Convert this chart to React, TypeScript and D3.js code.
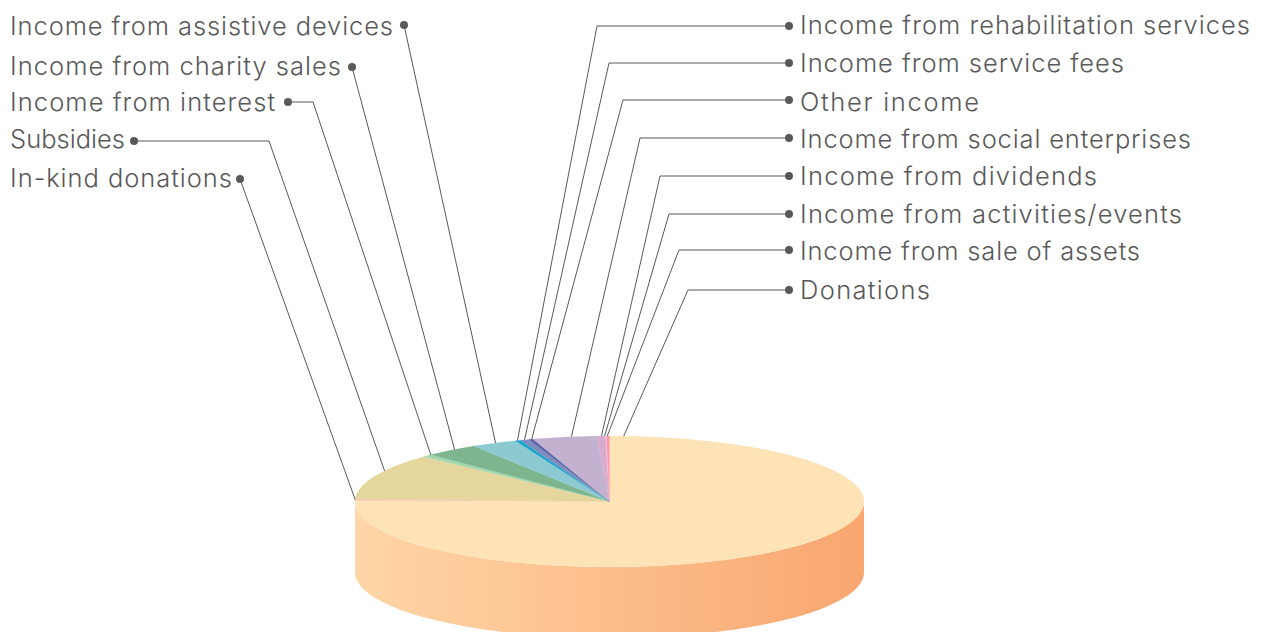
import React from "react";
import * as d3 from "d3";

const categories = ["Donations","In-kind donations","Subsidies","Income from interest","Income from charity sales","Income from assistive devices","Income from rehabilitation services","Income from service fees","Other income","Income from social enterprises","Income from dividends","Income from activities/events","Income from sale of assets"];
const shares = [75.28,0.42,11.28,0.64,3.44,2.92,0.33,0.56,0.28,4.08,0.53,0.06,0.19];
const colours = ["#FEE3B6","#F9C6AE","#E5D69E","#A3D7AE","#7CB58E","#8CC9D1","#12A4CF","#7F8CBE","#5C63A6","#C2B2D0","#D9AACD","#F0C6D8","#FF95A8"];

const W = 1264, H = 632;
const CX = 609.5, CY = 501.5, RX = 254.5, RY = 65.5, DEPTH = 71;

type Leader = { name: string; textX: number; textY: number; width: number; dot: number; dotY: number; elbow?: number; tipDeg: number };
const leaders: Leader[] = [
  { name: "Income from assistive devices", textX: 10, textY: 35, width: 383, dot: 404, dotY: 25, tipDeg: 333.4 },
  { name: "Income from charity sales", textX: 10, textY: 75, width: 331, dot: 352, dotY: 67, tipDeg: 322.5 },
  { name: "Income from interest", textX: 10, textY: 111, width: 265, dot: 288, dotY: 102, elbow: 313, tipDeg: 315.4 },
  { name: "Subsidies", textX: 10, textY: 148, width: 115, dot: 134, dotY: 141, elbow: 269, tipDeg: 297.9 },
  { name: "In-kind donations", textX: 10, textY: 187, width: 222, dot: 240, dotY: 179, tipDeg: 271.8 },
  { name: "Income from rehabilitation services", textX: 800, textY: 34, width: 450, dot: 789, dotY: 26, elbow: 597, tipDeg: 338.8 },
  { name: "Income from service fees", textX: 800, textY: 72, width: 324, dot: 789, dotY: 63, elbow: 609, tipDeg: 340.5 },
  { name: "Other income", textX: 800, textY: 111, width: 179, dot: 789, dotY: 100, elbow: 623, tipDeg: 342.2 },
  { name: "Income from social enterprises", textX: 800, textY: 148, width: 391, dot: 789, dotY: 138, elbow: 640, tipDeg: 351.4 },
  { name: "Income from dividends", textX: 800, textY: 185, width: 297, dot: 789, dotY: 176, elbow: 660, tipDeg: 358.2 },
  { name: "Income from activities/events", textX: 800, textY: 223, width: 382, dot: 789, dotY: 214, elbow: 669, tipDeg: 358.9 },
  { name: "Income from sale of assets", textX: 800, textY: 260, width: 340, dot: 789, dotY: 250, elbow: 679, tipDeg: 359.5 },
  { name: "Donations", textX: 800, textY: 299, width: 130, dot: 789, dotY: 290, elbow: 688, tipDeg: 3.2 },
];

const pieGen = d3.pie<number>().sort(null).startAngle(0).endAngle(2 * Math.PI);
const arcGen = d3.arc<d3.PieArcDatum<number>>().innerRadius(0).outerRadius(RX);
const rim = (deg: number): [number, number] => {
  const t = (deg * Math.PI) / 180;
  return [CX + RX * Math.sin(t), CY - RY * Math.cos(t)];
};

export default function App() {
  const arcs = pieGen(shares);
  const sidePath = `M${CX - RX},${CY} L${CX - RX},${CY + DEPTH} A${RX},${RY} 0 0 0 ${CX + RX},${CY + DEPTH} L${CX + RX},${CY} A${RX},${RY} 0 0 1 ${CX - RX},${CY} Z`;
  const line = d3.line();
  return (
    <svg width={W} height={H} style={{ position: "absolute", left: 0, top: 0, display: "block", background: "#fff" }}>
      <defs>
        <linearGradient id="side" gradientUnits="userSpaceOnUse" x1={CX - RX} x2={CX + RX} y1={0} y2={0}>
          <stop offset="0" stopColor="#FFD6A8" />
          <stop offset="1" stopColor="#F9A66F" />
        </linearGradient>
      </defs>
      <path d={sidePath} fill="url(#side)" />
      <g transform={`translate(${CX},${CY}) scale(1,${RY / RX})`}>
        {arcs.map((a, i) => (
          <path key={categories[i]} d={arcGen(a) as string} fill={colours[i]} stroke={colours[i]} strokeWidth={0.3} />
        ))}
      </g>
      {leaders.map((l) => {
        const pts: [number, number][] = [[l.dot, l.dotY]];
        if (l.elbow !== undefined) pts.push([l.elbow, l.dotY]);
        pts.push(rim(l.tipDeg));
        return (
          <g key={l.name}>
            <path d={line(pts) as string} fill="none" stroke="#595959" strokeWidth={1} />
            <circle cx={l.dot} cy={l.dotY} r={4} fill="#595959" />
            <text x={l.textX} y={l.textY} textLength={l.width} lengthAdjust="spacing" fontFamily="Inter, sans-serif" fontWeight={300} fontSize={25.5} fill="#595959">{l.name}</text>
          </g>
        );
      })}
    </svg>
  );
}
